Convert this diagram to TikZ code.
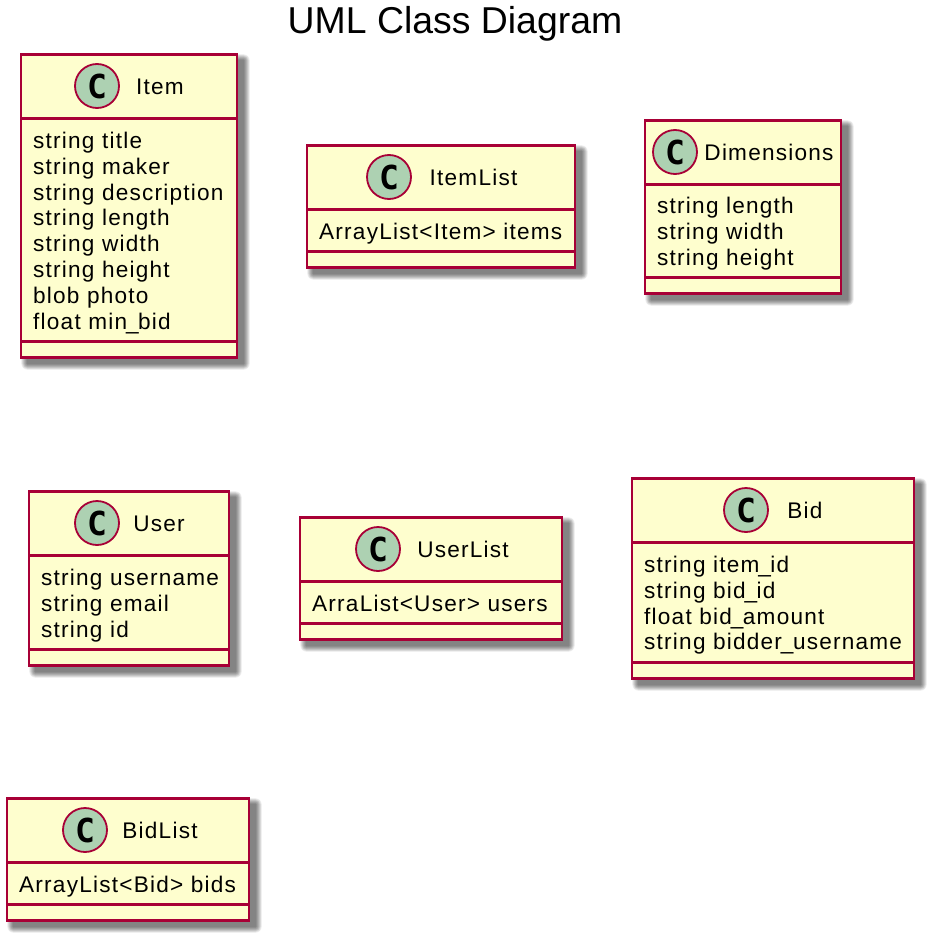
\documentclass[tikz,border=0pt]{standalone}
\usepackage{fontspec}
\setmainfont{Liberation Sans}[LetterSpace=5.4]
\newfontfamily\plainfont{Liberation Sans}
\newfontfamily\spotfont{DejaVu Sans Mono Bold}
\definecolor{umlfill}{HTML}{FEFECE}
\definecolor{umlline}{HTML}{A80036}
\definecolor{spotfill}{HTML}{ADD1B2}
\newcommand{\usc}{\kern-1pt\_\kern-0.5pt}
\tikzset{
  classbox/.style={draw=umlline,fill=umlfill,line width=2.8pt,rectangle,inner sep=0pt,outer sep=0pt},
  divider/.style={draw=umlline,line width=2.8pt},
  spot/.style={circle,draw=umlline,fill=spotfill,line width=1.8pt,minimum size=44pt,inner sep=0pt,font=\spotfont\fontsize{33}{33}\selectfont},
  classname/.style={anchor=base,inner sep=0pt,font=\fontsize{22.6}{26}\selectfont},
  member/.style={anchor=base west,inner sep=0pt,font=\fontsize{22.6}{26}\selectfont},
  heading/.style={anchor=base,inner sep=0pt,font=\plainfont\fontsize{37.4}{40}\selectfont}
}
% #1 name, #2 x1, #3 y1, #4 x2, #5 y2, #6 first divider y, #7 second divider y, #8 spot x, #9 title x
\newcommand{\umlclass}[9]{%
  \foreach \gr in {15,14,...,1}{
    \fill[black,opacity=0.042,rounded corners=\gr*0.42 pt]
      ({#2+6.5-\gr*0.42},{#3+6.5-\gr*0.42}) rectangle ({#4+6.5+\gr*0.42},{#5+6.5+\gr*0.42});
  }
  \node[classbox,minimum width={(#4-#2)*1pt},minimum height={(#5-#3)*1pt}] (#1) at ({(#2+#4)/2},{(#3+#5)/2+0.4}) {};
  \coordinate (#1-a) at (#2,#6+0.4); \coordinate (#1-b) at (#4,#6+0.4);
  \coordinate (#1-c) at (#2,#7+0.4); \coordinate (#1-d) at (#4,#7+0.4);
  \draw[divider] (#1-a) -- (#1-b);
  \draw[divider] (#1-c) -- (#1-d);
  \node[spot] (#1-spot) at (#8,{#3+32}) {C};
  \node[classname] (#1-name) at (#9,{#3+40.5}) {#1};
}
\newcommand{\members}[4]{% name, x, first baseline, list
  \foreach \txt [count=\n from 0] in {#4}{
    \node[member] (#1-m\n) at (#2,{#3+0.3+\n*25.85}) {\txt};
  }
}
\begin{document}
\begin{tikzpicture}[x=1pt,y=-1pt]
\useasboundingbox (0,0) rectangle (934,942);
\node[heading] (diagramtitle) at (455,34) {UML Class Diagram};
\umlclass{Item}{21}{54}{237}{357}{118}{341}{97}{160}
\members{Item}{33}{148}{string title,string maker,string description,string length,string width,string height,blob photo,float min\usc bid}
\umlclass{ItemList}{307}{145}{575}{267}{209}{251}{389}{473.5}
\members{ItemList}{319}{239}{ArrayList<Item> items}
\umlclass{Dimensions}{645}{120}{841}{293}{184}{277}{675}{769}
\members{Dimensions}{657}{213}{string length,string width,string height}
\umlclass{User}{29}{491}{229}{665}{555}{649}{97}{159}
\members{User}{41}{585}{string username,string email,string id}
\umlclass{UserList}{300}{517}{562}{639}{581}{623}{378}{463}
\members{UserList}{312}{611}{ArraList<User> users}
\umlclass{Bid}{632}{478}{914}{678}{542}{662}{746}{805}
\members{Bid}{644}{572}{string item\usc id,string bid\usc id,float bid\usc amount,string bidder\usc username}
\umlclass{BidList}{7}{798}{249}{920}{862}{904}{85}{160}
\members{BidList}{19}{892}{ArrayList<Bid> bids}
\end{tikzpicture}
\end{document}
